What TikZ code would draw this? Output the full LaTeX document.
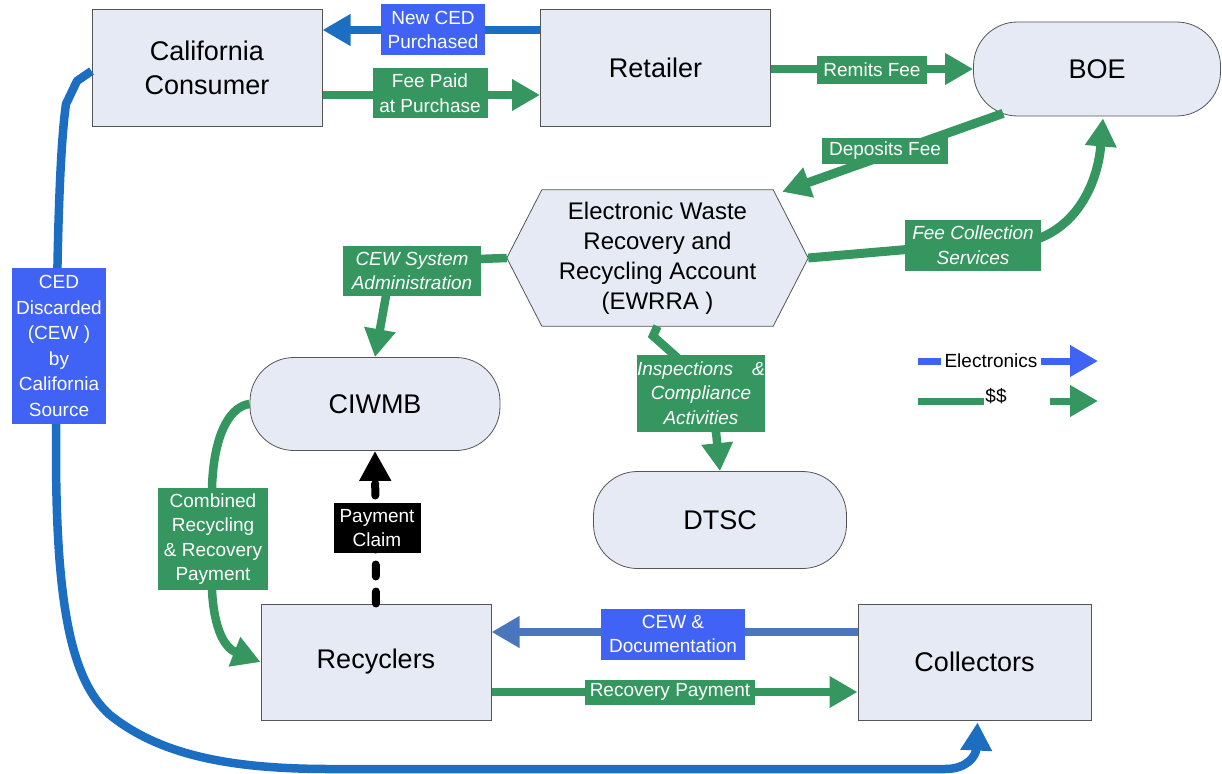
\documentclass[tikz,border=0pt]{standalone}
\usepackage{fontspec}
\setmainfont{Liberation Sans}
\usetikzlibrary{arrows.meta,calc,backgrounds}
\definecolor{nfill}{RGB}{230,234,244}
\definecolor{nborder}{RGB}{85,85,85}
\definecolor{cgreen}{RGB}{54,150,96}
\definecolor{cblue}{RGB}{27,110,194}
\definecolor{csteel}{RGB}{74,118,190}
\definecolor{clabel}{RGB}{64,99,245}
\begin{document}
\begin{tikzpicture}[x=1pt,y=-1pt,
  box/.style={draw=nborder, line width=1pt, fill=nfill, minimum width=230pt, minimum height=116pt, inner sep=0pt, align=center, font=\fontsize{27}{34}\selectfont},
  pill/.style={draw=nborder, line width=0.8pt, fill=nfill, rounded corners=44pt, inner sep=0pt, align=center, font=\fontsize{27}{34}\selectfont},
  lbl/.style={inner sep=0pt, align=center, text=white, font=\fontsize{19}{24.5}\selectfont},
  ilbl/.style={lbl, font=\fontsize{19}{24.5}\selectfont\itshape},
  glbl/.style={fill=cgreen},
  blbl/.style={fill=clabel},
  arr/.style={line width=8.5pt, -{Triangle[length=28pt,width=30pt]}},
  garrow/.style={arr, draw=cgreen},
  barrow/.style={arr, draw=cblue},
  sarrow/.style={arr, draw=csteel},
  legtext/.style={fill=white, inner xsep=3pt, inner ysep=1pt, text=black, font=\fontsize{19}{22}\selectfont}
]
\useasboundingbox (0,0) rectangle (1222,773);

% main nodes
\node[box] (consumer) at (207,68) {California\\Consumer};
\node[box] (retailer) at (655.5,68) {Retailer};
\node[pill, minimum width=247pt, minimum height=94pt] (boe) at (1097,69) {BOE};
\node[pill, minimum width=250pt, minimum height=93pt] (ciwmb) at (375,404) {CIWMB};
\node[pill, minimum width=253pt, minimum height=97pt] (dtsc) at (720,520) {DTSC};
\node[box] (recyclers) at (376,662) {Recyclers};
\node[box, minimum width=233pt] (collectors) at (974.5,662) {Collectors};
\node[minimum width=301pt, minimum height=136pt, inner sep=0pt, align=center, font=\fontsize{24}{30}\selectfont] (ewrra) at (657.5,258) {Electronic Waste\\Recovery and\\Recycling Account\\(EWRRA )};
\begin{scope}[on background layer]
\draw[draw=nborder, line width=0.8pt, fill=nfill] (ewrra.west) -- ($(ewrra.north west)+(35,0)$) -- ($(ewrra.north east)+(-35,0)$) -- (ewrra.east) -- ($(ewrra.south east)+(-35,0)$) -- ($(ewrra.south west)+(35,0)$) -- cycle;
\end{scope}

% connectors
\draw[barrow] ($(retailer.west)+(0,-38)$) -- ($(consumer.east)+(0,-38)$);
\draw[garrow] ($(consumer.east)+(0,27)$) -- ($(retailer.west)+(0,27)$);
\draw[garrow] (retailer.east |- boe.west) -- (boe.west);
\draw[garrow, line width=9pt] ($(boe.south west)+(30,-3)$) -- ($(ewrra.north east)+(-26,2)$);
\draw[garrow, line width=9pt] (ewrra.east) -- (1040,238) .. controls (1080,222) and (1098,180) .. ($(boe.south)+(6,2)$);
\draw[garrow] (ewrra.west) -- (392,262) -- (ciwmb.north);
\draw[garrow] (ewrra.south) -- (653,336) -- (680,360) -- (716,432) -- (dtsc.north);
\draw[garrow] (ciwmb.west) .. controls (232,406) and (214,430) .. (212,487) -- (212,590) .. controls (214,630) and (225,648) .. (recyclers.west);
\draw[black, line width=8pt, line cap=round, dash pattern=on 12pt off 15pt, -{Triangle[length=30pt,width=30pt]}] (recyclers.north) -- (ciwmb.south);
\draw[sarrow] ($(collectors.west)+(0,-30)$) -- ($(recyclers.east)+(0,-30)$);
\draw[garrow] ($(recyclers.east)+(0,30)$) -- ($(collectors.west)+(0,30)$);
\draw[barrow, line width=8.5pt, line join=round] ($(consumer.west)+(0,3)$) -- (77,81) -- (66,104) .. controls (58,160) and (56,300) .. (56,450) .. controls (56,600) and (70,680) .. (110,715) .. controls (160,755) and (230,769) .. (330,769) -- (945,769) .. controls (968,769) and (976,755) .. ($(collectors.south)+(3,2)$);

% labels
\node[lbl, blbl, minimum width=104pt, minimum height=51pt] (lNew) at (433,30) {New CED\\Purchased};
\node[lbl, glbl, minimum width=115pt, minimum height=50pt] (lFee) at (430,93) {Fee Paid\\at Purchase};
\node[lbl, glbl, minimum width=110pt, minimum height=28pt] (lRem) at (872,70) {Remits Fee};
\node[lbl, glbl, minimum width=126pt, minimum height=26pt] (lDep) at (885,151) {Deposits Fee};
\node[ilbl, glbl, minimum width=136pt, minimum height=51pt] (lFcs) at (973,245) {Fee Collection\\Services};
\node[ilbl, glbl, minimum width=138pt, minimum height=50pt] (lCew) at (412,271) {CEW System\\Administration};
\node[ilbl, glbl, minimum width=127pt, minimum height=77pt] (lIns) at (701,393) {Inspections\quad\&\\Compliance\\Activities};
\node[lbl, glbl, minimum width=110pt, minimum height=102pt] (lComb) at (213,539) {Combined\\Recycling\\\& Recovery\\Payment};
\node[lbl, fill=black, minimum width=87pt, minimum height=50pt] (lPay) at (377,528) {Payment\\Claim};
\node[lbl, blbl, minimum width=94pt, minimum height=156pt, font=\fontsize{19}{25.5}\selectfont] (lCed) at (59,346) {CED\\Discarded\\(CEW )\\by\\California\\Source};
\node[lbl, blbl, minimum width=144pt, minimum height=51pt] (lDoc) at (673,634) {CEW \&\\Documentation};
\node[lbl, glbl, minimum width=170pt, minimum height=25pt] (lRec) at (670,692) {Recovery Payment};

% legend
\coordinate (le1) at (918,361);
\coordinate (le2) at (1098,361);
\coordinate (ld1) at (918,401);
\coordinate (ld3) at (1050,401);
\coordinate (ld2) at (1098,401);
\node[legtext] (legE) at (991,361) {Electronics};
\node[legtext, inner xsep=1pt] (legD) at (996,396) {\$\$};
\draw[draw=clabel, line width=7pt] (le1) -- (legE.west |- le1);
\draw[arr, draw=clabel, line width=7pt] (legE.east |- le1) -- (le2);
\draw[draw=cgreen, line width=7pt] (ld1) -- (legD.west |- ld1);
\draw[arr, draw=cgreen, line width=7pt] (ld3) -- (ld2);
\end{tikzpicture}
\end{document}
